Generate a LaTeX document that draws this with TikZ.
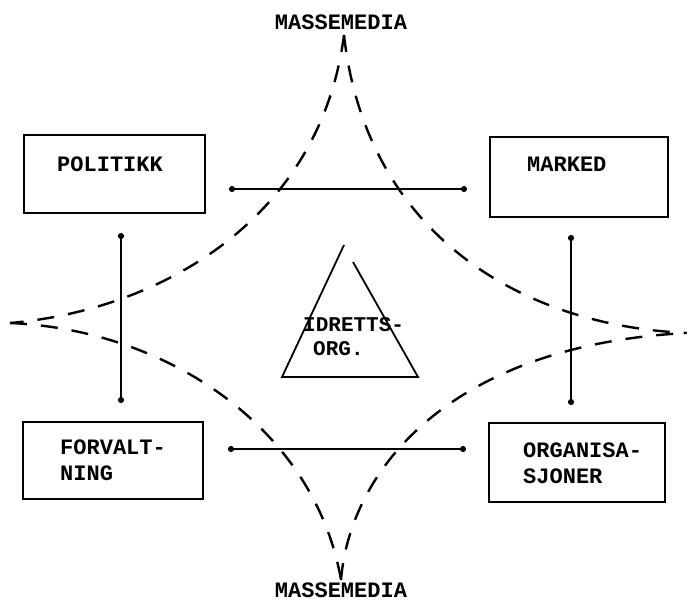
\documentclass[tikz,border=0pt]{standalone}
\usepackage{fontspec}
\setmonofont{Liberation Mono}
\usetikzlibrary{arrows.meta}
\begin{document}
\begin{tikzpicture}[x=1pt,y=-1pt,
  box/.style={draw, line width=2.2pt, inner sep=0pt},
  lbl/.style={font=\ttfamily\bfseries\fontsize{22}{26}\selectfont, inner sep=0pt, anchor=north west, align=left},
  link/.style={line width=2pt, {Circle[length=6pt]}-{Circle[length=6pt]}},
  dashline/.style={line width=2.4pt, dash pattern=on 17pt off 14pt}]
\useasboundingbox (0,0) rectangle (687,603);

% boxes
\node[box, minimum width=181pt, minimum height=78pt] (pol) at (114.5,174) {};
\node[box, minimum width=178pt, minimum height=80pt] (mar) at (579,177) {};
\node[box, minimum width=180pt, minimum height=77pt] (for) at (113,460.5) {};
\node[box, minimum width=176pt, minimum height=79pt] (org) at (577,462.5) {};

% labels
\node[lbl] (polt) at (57,157) {POLITIKK};
\node[lbl] (mart) at (527,157) {MARKED};
\node[lbl] (fort) at (60,440) {FORVALT-\\NING};
\node[lbl] (orgt) at (523,443) {ORGANISA-\\SJONER};
\node[lbl, anchor=north] (mtop) at (341,15) {MASSEMEDIA};
\node[lbl, anchor=north] (mbot) at (341,583) {MASSEMEDIA};
\node[lbl, font=\ttfamily\bfseries\fontsize{21}{24}\selectfont] (idr) at (303,317) {IDRETTS-\\\hspace*{10pt}ORG.};

% connector ends
\coordinate (tl) at (229,189);
\coordinate (tr) at (467,189);
\coordinate (bl) at (228,449);
\coordinate (br) at (466,449);
\coordinate (lt) at (121,233);
\coordinate (lb) at (121,403);
\coordinate (rt) at (571,235);
\coordinate (rb) at (571,405);

\draw[link] (tl) -- (tr);
\draw[link] (bl) -- (br);
\draw[link] (lt) -- (lb);
\draw[link] (rt) -- (rb);

% cusps of the dashed figure
\coordinate (ctop) at (344,35);
\coordinate (cbot) at (341,580);
\coordinate (cleft) at (10,323);
\coordinate (cright) at (687,333);

\draw[dashline] (ctop) .. controls (320,220) and (160,310) .. (cleft);
\draw[dashline] (cleft) .. controls (170,330) and (315,430) .. (cbot);
\draw[dashline] (cbot) .. controls (350,470) and (450,345) .. (cright);
\draw[dashline] (ctop) .. controls (365,225) and (510,325) .. (cright);

% triangle
\coordinate (ta) at (344,245);
\coordinate (tg) at (353,262);
\coordinate (tbl) at (282,377);
\coordinate (tbr) at (418,377);
\draw[line width=1.8pt, line join=miter] (tg) -- (tbr) -- (tbl) -- (ta);
\end{tikzpicture}
\end{document}
